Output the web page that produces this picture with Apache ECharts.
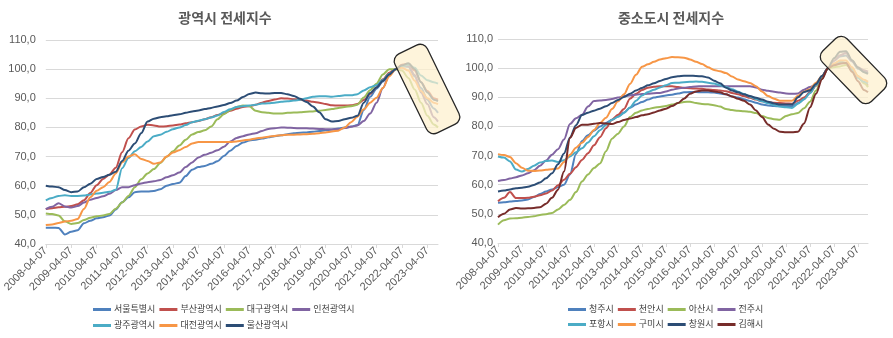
<!DOCTYPE html>
<html>
<head>
<meta charset="utf-8">
<script src="https://cdn.jsdelivr.net/npm/echarts@6/dist/echarts.min.js"></script>
<style>
html,body{margin:0;padding:0;background:#fff;}
#c{width:893px;height:338px;}
</style>
</head>
<body>
<div id="c"></div>
<script>
// quarterly sample dates (index base 2022-01 = 100)
const dates = ['2008-04','2008-07','2008-10','2009-01','2009-04','2009-07','2009-10','2010-01','2010-04','2010-07','2010-10','2011-01','2011-04','2011-07','2011-10','2012-01','2012-04','2012-07','2012-10','2013-01','2013-04','2013-07','2013-10','2014-01','2014-04','2014-07','2014-10','2015-01','2015-04','2015-07','2015-10','2016-01','2016-04','2016-07','2016-10','2017-01','2017-04','2017-07','2017-10','2018-01','2018-04','2018-07','2018-10','2019-01','2019-04','2019-07','2019-10','2020-01','2020-04','2020-07','2020-10','2021-01','2021-04','2021-07','2021-10','2022-01','2022-04','2022-07','2022-10','2023-01','2023-04','2023-07','2023-09'];
const tickLabels = ['2008-04-07','2009-04-07','2010-04-07','2011-04-07','2012-04-07','2013-04-07','2014-04-07','2015-04-07','2016-04-07','2017-04-07','2018-04-07','2019-04-07','2020-04-07','2021-04-07','2022-04-07','2023-04-07'];
const yTicks = [40,50,60,70,80,90,100,110];

const leftTitle = '광역시 전세지수';
const rightTitle = '중소도시 전세지수';
const leftNames = ['서울특별시','부산광역시','대구광역시','인천광역시','광주광역시','대전광역시','울산광역시'];
const rightNames = ['청주시','천안시','아산시','전주시','포항시','구미시','창원시','김해시'];

// 광역시
const seoul = [45.6,45.6,45.5,43.3,44.2,44.7,47.1,48,48.8,49.2,49.8,51.8,54.3,56,57.8,58,58,58.2,58.8,60,60.6,61,63.3,65.5,66.4,66.8,67.5,68.4,70.2,72,73.6,74.8,75.5,75.8,76.2,76.6,77,77.3,77.7,78,78.2,78.3,78.5,78.8,79,79.3,79.6,80,80.3,80.8,86,90.5,93.3,95.8,98.5,100,101,100.8,97.5,93.5,89.5,86.5,85];
const busan = [52,52.3,52.6,52.8,53,53.6,55,57.5,60.2,62.3,63.8,66.2,71.5,76.3,79.3,80.3,80.9,80.7,80.3,80.4,80.7,81,81.4,81.8,82.2,82.8,83.5,84.3,84.8,85.7,86.4,87,87.3,87.8,88.5,89.1,89.6,90,89.9,89.7,89.5,89.2,88.8,88.5,88,87.6,87.5,87.5,87.6,88,89.4,91.5,93.8,96.5,98.8,100,101.5,101.8,99.5,95.5,92.5,90,89.5];
const daegu = [50.5,50.3,49.8,47.8,46.9,47.2,48.2,49,49.5,49.8,50.3,52.1,54.2,56.5,59.5,62.2,64.2,65.7,67.8,69.9,71.8,73.8,75.8,77.6,78.4,79,80.3,82.8,84.5,86,87,87.5,87.3,85.7,85.2,85,84.8,84.8,85,85.1,85.2,85.4,85.5,85.7,86,86.3,86.7,87,87.3,87.8,90.3,92.8,95,98.2,100,100,99.5,97,93,88.5,84,81,80];
const incheon = [52,52.8,54,52.9,52.5,53,54.2,55.2,55.8,56.4,57.2,58.5,59.5,59.5,60.2,60.8,61.2,61.5,62,62.9,63.6,64.5,66.4,68,69.7,70.6,71.3,72.2,73.4,75.2,76.4,77,77.6,78,78.8,79.5,79.7,80,79.9,79.8,79.7,79.7,79.6,79.5,79.4,79.3,79.4,79.8,80.2,80.7,82.2,84.8,88.5,93.5,98,100,101,101.2,98,92,88,83.5,82];
const gwangju = [55,55.8,56.5,56.7,56.5,56.5,56.6,57,57.3,57.6,57.9,58.6,66,69.5,71.8,73.3,75.2,77,77.5,78.5,79.4,80,80.8,81.8,82.3,82.8,83.4,84.1,85.3,86.2,87,87.3,87.5,87.8,88.2,88.3,88.5,88.8,89,89.2,89.5,90,90.5,90.7,90.7,90.5,90.8,91,91,91.4,92.7,93.8,94.5,96.3,98.3,100,101,101.5,100.5,97.8,96.2,95.5,95];
const daejeon = [46.5,46.7,47.2,47.7,48,48.6,52,56,58.3,59.5,61.3,64.2,68,70,70.8,69.2,68.5,67.5,68,70,71.4,72.2,73.3,74.5,75,75,75,75,75,75,75.2,75.5,75.8,76.2,76.5,76.8,77.1,77.3,77.5,77.5,77.6,77.7,77.8,78,78.3,78.6,78.9,80,81.8,83.7,86.2,88.5,90.2,93.5,97.5,100,100.5,99.5,96,92.5,90,88.5,88];
const ulsan = [60,59.7,59.5,58.5,57.8,58,59.5,60.7,62.3,63,63.8,64.8,68.5,72,74.5,78,82,83,83.5,83.8,84.2,84.5,85,85.5,85.8,86.3,86.7,87.2,87.7,88.4,89.2,90.4,91.5,92,91.7,91.6,91.8,91.8,91.4,90.8,89.8,88.7,87.2,85.2,82.8,82,82.2,82.8,83.3,84,88.5,91.8,93.7,96,98.2,100,101.3,102,100,95.5,92,89.5,89];

// 중소도시
const cheongju = [53.8,54,54.2,54.4,54.6,54.9,55.8,56.8,57.7,58.4,59.1,60,63.5,70.5,75,77,78.5,80,81.2,82.3,83.4,84.8,86.4,87.5,88.4,89.2,89.9,90.3,90.6,90.9,91.3,91.7,91.8,91.8,91.7,91.7,91.6,91.3,91,90.3,89.9,89.3,88.7,88.1,87.5,87.2,87,86.9,86.9,86.9,88,89.3,92,94.5,97.2,100,102.5,104,104.3,102.3,99.8,98.8,98.3];
const cheonan = [54.3,55.5,57.5,55.4,55.4,55.5,55.9,56.4,57,58,59.8,61.7,63.8,66,68.5,70.8,73.5,76.3,79.4,82.3,84,86,89.5,91.2,92.5,93.3,93.6,93.8,93.8,93.8,93.5,93.2,93.1,93,92.9,92.7,92.5,92.3,92.1,91.5,91,90.4,89.8,89.2,88.6,88.3,88.1,88,87.9,87.8,88.8,89.9,91.6,94,97,100,101,101.8,101.8,99.4,97,95,94];
const asan = [46.3,47.8,48.4,48.5,48.7,48.9,49.2,49.6,49.9,50.3,51.5,53,54.8,57.5,61.1,63.5,65.7,67.3,71.5,75.8,77.5,80,83.2,84.7,85.5,86,86.4,86.7,87,87.5,88,88.4,88.5,88,87.7,87.6,87.3,86.8,86,85.6,85.4,85.2,85,84.6,83.6,82.9,82.5,82.3,83.6,84.2,84.6,86.2,88.5,92.3,96.6,100,100.3,100.6,101.1,99.8,97.3,94.8,93.5];
const jeonju = [61.3,61.6,62.1,62.6,63.2,63.9,65,66.5,68.3,70.3,72.2,75.5,80.8,82.8,84,86.8,88.7,88.9,89.1,89.4,89.9,90.4,90.6,90.9,91.1,91.2,91.4,91.5,92,92.6,93,93.3,93.5,93.7,93.8,93.8,93.8,93.8,93.8,93.8,93.8,93.8,93.8,93.4,92.6,92.2,91.9,91.6,91.3,91.2,91.3,92.6,93.5,94.3,97.2,100,102.5,104.4,105.2,102.5,100.3,99.3,98.8];
const pohang = [69.7,69.3,68,65.2,64.5,65.4,66.5,67.6,68.1,68.3,67.8,68.4,69.7,71.1,72.5,74.5,76.6,78.7,80.5,82.3,83.3,84.6,86.5,88.8,90.6,91.8,92.6,93.4,94.1,94.9,95,95.2,95.3,95.4,95.3,95,94.7,94.1,93.5,92.8,91.9,91.1,90.2,89.4,88.6,88,87.3,86.8,86.6,86.3,87.8,89.3,91.4,94.2,97.1,100,101.4,102.3,101.8,99.3,96.6,95.3,94.8];
const gumi = [70.5,70.2,69.5,67.4,65.8,64.8,64.7,64.9,65.1,65.3,65.6,67.8,70.3,72.7,74.4,76.4,78.8,81.2,83,86,88.6,91,94.6,97.7,100.5,101.3,102.2,103,103.4,103.8,103.7,103.6,103,102.2,101.4,100.3,99.4,98.9,98.3,97.1,96.1,95.5,94.9,93.8,92,90.4,89.5,88.8,88.8,88.8,90.5,91.9,92.8,95,97.3,100,101.6,102.6,102.6,100.3,97.2,96,95.3];
const changwon = [57.7,58,58.4,58.8,59,59.3,59.9,60.8,62.2,63.9,67,70.7,76.2,80.4,83.9,84.7,85.4,86.1,86.9,88,89.1,90.1,91.2,92.3,93.2,94.1,94.8,95.6,96.3,96.9,97.2,97.4,97.4,97.3,97.2,96.8,95.7,94.8,93.3,92.3,91.7,91,90.4,89.8,89.2,88.5,87.9,87.5,87.5,87.5,90,91.8,92.4,94.6,97.3,100,103.4,105.6,105.8,102.7,100.2,98.6,98];
const gimhae = [48.8,50,51.5,52,51.8,51.9,52,52.3,53.5,55.5,58.3,64.5,76,79.5,80.6,80.6,80.9,81.2,81,80.8,81.5,82.2,82.7,83.2,83.8,84.2,84.8,85.5,86.1,87,88,89.5,91.2,92,92.3,92.3,92,91.7,91,90.3,89.5,88.8,87.5,85.5,83.2,80.7,79.2,78.2,78,78,78.2,81,86.5,91.2,96.2,100,101,101.5,101.8,98.8,95.5,92.5,91.7];

const leftData = [seoul, busan, daegu, incheon, gwangju, daejeon, ulsan];
const rightData = [cheongju, cheonan, asan, jeonju, pohang, gumi, changwon, gimhae];
const palette = ['#4F81BD','#C0504D','#9BBB59','#8064A2','#4BACC6','#F79646','#2C4D75','#772C2A'];

function monthIndex(d){ const p = d.split('-').map(Number); return (p[0]-2008)*12 + (p[1]-4); }
function pts(vals){ return vals.map((v,i)=>[monthIndex(dates[i]), v]); }

const FONT = '"Liberation Sans", "Noto Sans CJK KR", sans-serif';
const grey = '#595959';

function xAxis(gi){
  return {
    type:'value', gridIndex:gi, min:0, max:185, interval:12,
    axisLine:{show:true, lineStyle:{color:'#D9D9D9'}},
    axisTick:{show:true, length:4, lineStyle:{color:'#D9D9D9'}},
    splitLine:{show:false},
    axisLabel:{rotate:45, margin:5, fontSize:11, color:grey, fontFamily:FONT, showMaxLabel:false,
      formatter: v => (v % 12 === 0 && tickLabels[v/12]) ? tickLabels[v/12] : ''}
  };
}
function yAxis(gi, margin){
  return {
    type:'value', gridIndex:gi, min:yTicks[0], max:yTicks[yTicks.length-1], interval:10,
    axisLine:{show:false}, axisTick:{show:false},
    splitLine:{lineStyle:{color:'#D9D9D9', width:1}},
    axisLabel:{fontSize:11, color:grey, margin:margin, fontFamily:FONT,
      formatter: v => v.toFixed(1).replace('.', ',')}
  };
}

const series = [];
leftNames.forEach((n,i)=>series.push({name:n, type:'line', xAxisIndex:0, yAxisIndex:0, data:pts(leftData[i]),
  showSymbol:false, smooth:0.3, smoothMonotone:'x', lineStyle:{width:2, color:palette[i]}, itemStyle:{color:palette[i]}}));
rightNames.forEach((n,i)=>series.push({name:n, type:'line', xAxisIndex:1, yAxisIndex:1, data:pts(rightData[i]),
  showSymbol:false, smooth:0.3, smoothMonotone:'x', lineStyle:{width:2, color:palette[i]}, itemStyle:{color:palette[i]}}));

function legend(names, left, top){
  return {data:names, left:left, top:top, orient:'horizontal', icon:'rect', itemWidth:18, itemHeight:3, itemGap:4,
    selectedMode:false, padding:0, textStyle:{fontSize:9, color:'#404040', fontFamily:FONT, padding:[0,0,0,-2]}};
}

const boxStyle = {fill:'rgba(253,240,205,0.72)', stroke:'#262626', lineWidth:1.3};

const option = {
  animation:false,
  textStyle:{fontFamily:FONT},
  grid:[
    {left:45, right:455, top:40, bottom:94},
    {left:498, right:25, top:39, bottom:95}
  ],
  xAxis:[xAxis(0), xAxis(1)],
  yAxis:[yAxis(0,10), yAxis(1,5)],
  legend:[
    legend(leftNames.slice(0,4), 93, 305),
    legend(leftNames.slice(4), 93, 321),
    legend(rightNames.slice(0,4), 568, 305),
    legend(rightNames.slice(4), 568, 320)
  ],
  graphic:[
    {type:'text', x:225, y:18, z:100, style:{text:leftTitle, align:'center', verticalAlign:'middle', font:'bold 14px "Noto Sans CJK KR", sans-serif', fill:grey}},
    {type:'text', x:671, y:18, z:100, style:{text:rightTitle, align:'center', verticalAlign:'middle', font:'bold 14px "Noto Sans CJK KR", sans-serif', fill:grey}},
    {type:'rect', x:427, y:89, z:100, rotation:-64*Math.PI/180, shape:{x:-44, y:-18, width:88, height:36, r:8}, style:boxStyle},
    {type:'rect', x:853.5, y:70, z:100, rotation:-46*Math.PI/180, shape:{x:-35, y:-17, width:70, height:34, r:8}, style:boxStyle}
  ],
  series: series
};

const chart = echarts.init(document.getElementById('c'), null, {renderer:'canvas'});
chart.setOption(option);
</script>
</body>
</html>
